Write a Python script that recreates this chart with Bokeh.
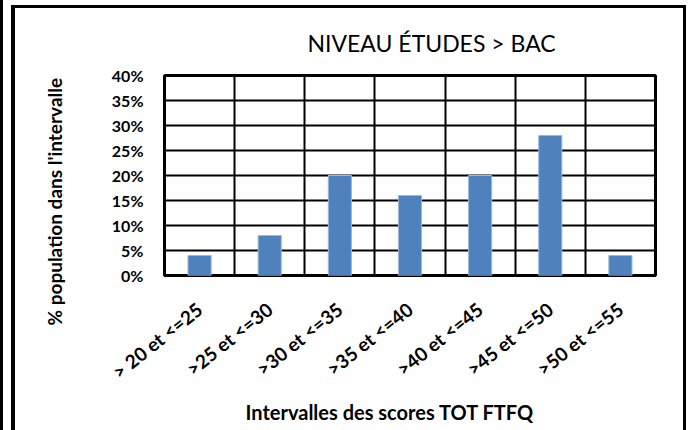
import math
from bokeh.plotting import figure
from bokeh.models import Range1d, FixedTicker, NumeralTickFormatter, Title, ColumnDataSource
from bokeh.embed import file_html
from bokeh.resources import INLINE

# ---- data ----
categories = [
    "> 20 et <=25", ">25 et <=30", ">30 et <=35", ">35 et <=40",
    ">40 et <=45", ">45 et <=50", ">50 et <=55",
]
percentages = [0.04, 0.08, 0.20, 0.16, 0.20, 0.28, 0.04]
y_ticks = [0.0, 0.05, 0.10, 0.15, 0.20, 0.25, 0.30, 0.35, 0.40]
title_text = "NIVEAU ÉTUDES > BAC"
x_title = "Intervalles des scores TOT FTFQ"
y_title = "% population dans l'intervalle"

FONT = "Lato"
n = len(categories)
centers = [i + 0.5 for i in range(n)]
src = ColumnDataSource(dict(x=centers, top=percentages, cat=categories))

p = figure(
    width=686, height=430,
    x_range=Range1d(0, n), y_range=Range1d(0, 0.4),
    output_backend="svg", toolbar_location=None,
    min_border_left=164, min_border_right=31,
    min_border_top=75, min_border_bottom=153,
    title=None,
)
p.border_fill_alpha = 0
p.background_fill_color = "white"
# chart border (Excel-like frame): thin page edge line, left, top and right edges
p.styles = {
    "background": "white",
    "box-shadow": (
        "inset 3px 0 0 0 black, inset 11px 0 0 0 white, inset 0 5px 0 0 white, "
        "inset 15px 0 0 0 black, inset 0 8px 0 0 black, inset -3px 0 0 0 black"
    ),
}

p.vbar(x="x", top="top", width=0.33, source=src,
       fill_color="#4F81BD", line_color="#9DB8DE", line_width=1)

# grids
p.xgrid.ticker = FixedTicker(ticks=list(range(n + 1)))
p.ygrid.ticker = FixedTicker(ticks=y_ticks)
for g in (p.xgrid, p.ygrid):
    g.grid_line_color = "black"
    g.grid_line_width = 2

p.outline_line_color = "black"
p.outline_line_width = 3

# axes
p.yaxis.ticker = FixedTicker(ticks=y_ticks)
p.yaxis.formatter = NumeralTickFormatter(format="0%")
p.xaxis.ticker = FixedTicker(ticks=centers)
p.xaxis.major_label_overrides = {c: lab for c, lab in zip(centers, categories)}
p.xaxis.major_label_orientation = math.radians(38.5)
for ax in (p.xaxis, p.yaxis):
    ax.axis_line_color = None
    ax.major_tick_line_color = None
    ax.minor_tick_line_color = None
    ax.major_label_text_font = FONT
    ax.major_label_text_font_style = "bold"
    ax.major_label_text_color = "black"
p.yaxis.major_label_text_font_size = "16px"
p.yaxis.major_label_standoff = 15
p.xaxis.major_label_text_font_size = "19px"
p.xaxis.major_label_standoff = 25

# titles
p.add_layout(Title(text=title_text, align="left", offset=143, standoff=38,
                   text_font=FONT, text_font_size="23px", text_font_style="normal",
                   text_color="black"), "above")
p.add_layout(Title(text=x_title, align="left", offset=81, standoff=10,
                   vertical_align="top",
                   text_font=FONT, text_font_size="20px", text_font_style="bold",
                   text_color="black"), "below")
p.add_layout(Title(text=y_title, align="left", offset=-50, standoff=81,
                   vertical_align="top",
                   text_font=FONT, text_font_size="19px", text_font_style="bold",
                   text_color="black"), "left")

open("out.html", "w").write(file_html(p, INLINE))
